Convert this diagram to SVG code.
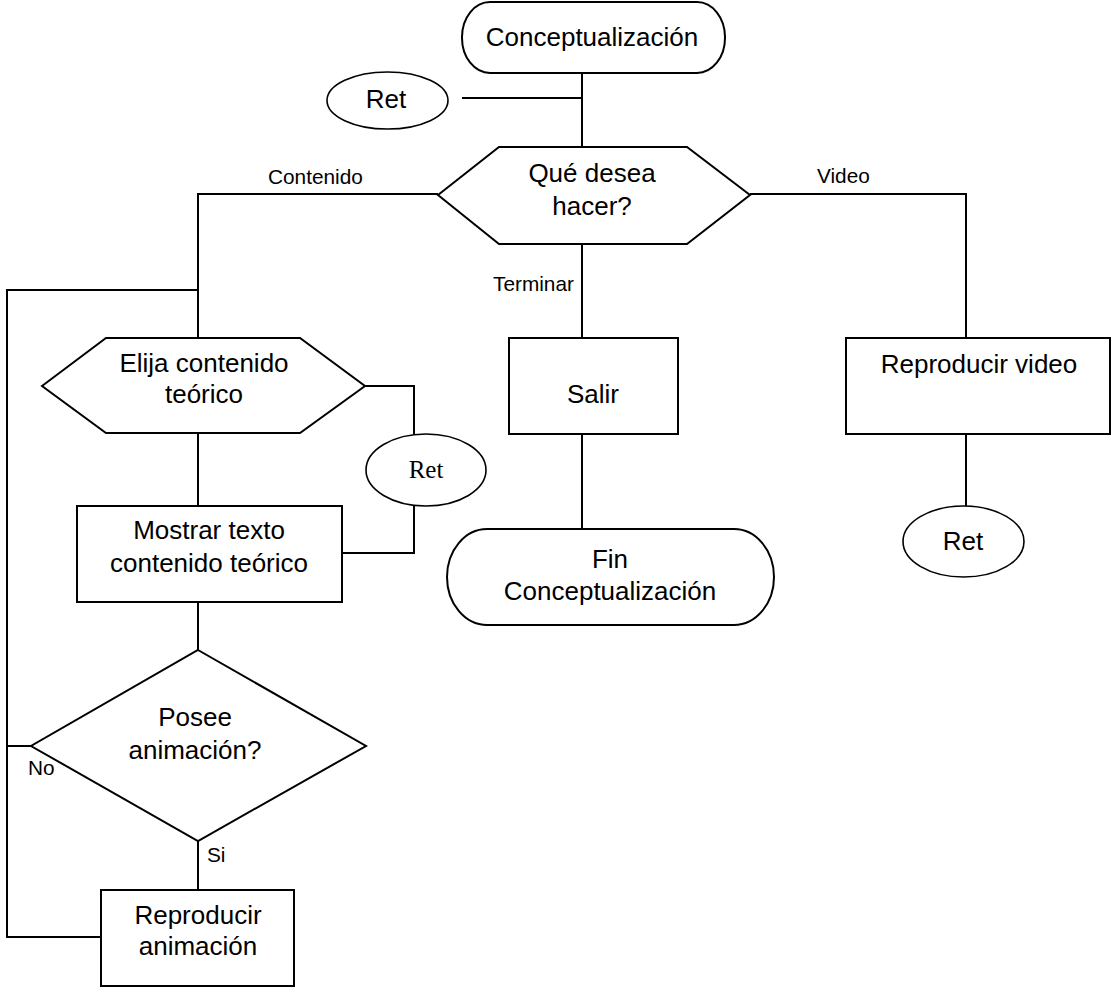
<svg xmlns="http://www.w3.org/2000/svg" width="1111" height="987" viewBox="0 0 1111 987">
  <style>
    .shape { fill: #fff; stroke: #000; stroke-width: 2; }
    .oval { fill: #fff; stroke: #000; stroke-width: 1.6; }
    .wire { fill: none; stroke: #000; stroke-width: 2; }
    .t { font-family: "Liberation Sans", Arial, sans-serif; font-size: 26px; fill: #000; text-anchor: middle; }
    .ts { font-family: "Liberation Serif", "Times New Roman", serif; font-size: 25px; fill: #000; text-anchor: middle; }
    .lbl { font-family: "Liberation Sans", Arial, sans-serif; font-size: 20.8px; fill: #000; }
  </style>
  <rect width="1111" height="987" fill="#fff"/>

  <!-- connectors -->
  <g id="connectors">
    <polyline class="wire" points="582,73 582,147"/>
    <polyline class="wire" points="462,98 582,98"/>
    <polyline class="wire" points="438,194 198,194 198,338"/>
    <polyline class="wire" points="198,290 7,290 7,937 101,937"/>
    <polyline class="wire" points="7,746 31,746"/>
    <polyline class="wire" points="750,194 966,194 966,338"/>
    <polyline class="wire" points="966,434 966,506"/>
    <polyline class="wire" points="582,244 582,338"/>
    <polyline class="wire" points="582,434 582,529"/>
    <polyline class="wire" points="365,386 414,386 414,434"/>
    <polyline class="wire" points="414,506 414,553 342,553"/>
    <polyline class="wire" points="198,434 198,506"/>
    <polyline class="wire" points="198,602 198,650"/>
    <polyline class="wire" points="198,841 198,889"/>
    <text class="lbl" x="268" y="184">Contenido</text>
    <text class="lbl" x="817" y="183">Video</text>
    <text class="lbl" x="493" y="291">Terminar</text>
    <text class="lbl" x="28" y="775">No</text>
    <text class="lbl" x="207" y="862">Si</text>
  </g>

  <g id="inicio">
    <rect class="shape" x="462" y="2" width="263" height="71" rx="28" ry="35"/>
    <text class="t" x="592" y="46">Conceptualización</text>
  </g>

  <g id="ret-inicio">
    <ellipse class="oval" cx="387.5" cy="100.5" rx="60.5" ry="28.5"/>
    <text class="t" x="386" y="108">Ret</text>
  </g>

  <g id="que-desea">
    <polygon class="shape" points="438,195 499,147 687,147 750,195 687,244 499,244"/>
    <text class="t" x="592" y="182">Qué desea</text>
    <text class="t" x="592" y="215">hacer?</text>
  </g>

  <g id="elija-contenido">
    <polygon class="shape" points="42,386 106,338 300,338 365,386 300,433 106,433"/>
    <text class="t" x="204" y="372">Elija contenido</text>
    <text class="t" x="204" y="403">teórico</text>
  </g>

  <g id="ret-contenido">
    <ellipse class="oval" cx="426" cy="470" rx="60" ry="36"/>
    <text class="ts" x="426" y="478">Ret</text>
  </g>

  <g id="mostrar-texto">
    <rect class="shape" x="77" y="506" width="265" height="96"/>
    <text class="t" x="209" y="539">Mostrar texto</text>
    <text class="t" x="209" y="572">contenido teórico</text>
  </g>

  <g id="posee-animacion">
    <polygon class="shape" points="198,650 366,746 198,841 31,746"/>
    <text class="t" x="195" y="726">Posee</text>
    <text class="t" x="195" y="759">animación?</text>
  </g>

  <g id="reproducir-animacion">
    <rect class="shape" x="101" y="890" width="193" height="96"/>
    <text class="t" x="198" y="924">Reproducir</text>
    <text class="t" x="198" y="955">animación</text>
  </g>

  <g id="salir">
    <rect class="shape" x="509" y="338" width="169" height="96"/>
    <text class="t" x="593" y="403">Salir</text>
  </g>

  <g id="fin">
    <rect class="shape" x="447" y="529" width="327" height="96" rx="40" ry="48"/>
    <text class="t" x="610" y="568">Fin</text>
    <text class="t" x="610" y="600">Conceptualización</text>
  </g>

  <g id="reproducir-video">
    <rect class="shape" x="846" y="338" width="264" height="96"/>
    <text class="t" x="979" y="373">Reproducir video</text>
  </g>

  <g id="ret-video">
    <ellipse class="oval" cx="963.5" cy="541.5" rx="60.5" ry="35.5"/>
    <text class="t" x="963" y="550">Ret</text>
  </g>
</svg>
